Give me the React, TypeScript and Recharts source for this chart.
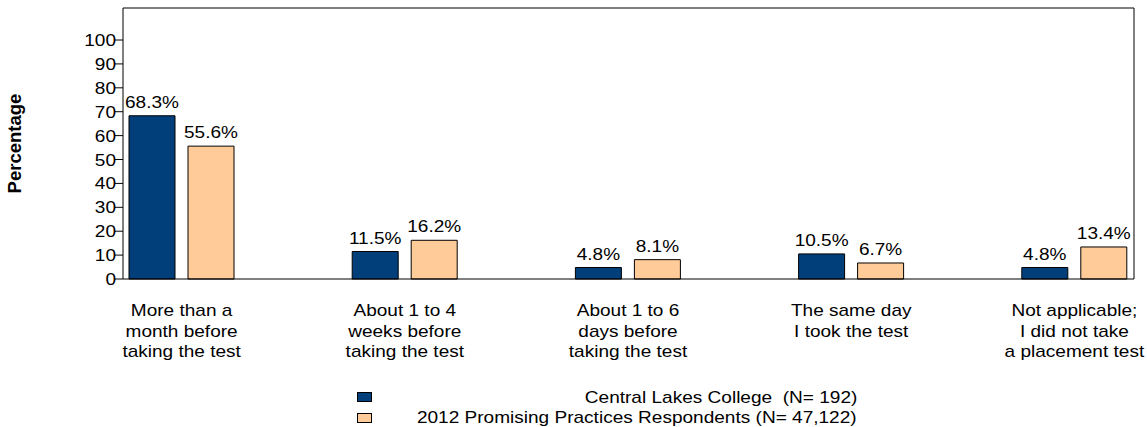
import React from 'react';
import { BarChart, Bar, XAxis, YAxis, Legend, LabelList } from 'recharts';

const categories = [
  'More than a\nmonth before\ntaking the test',
  'About 1 to 4\nweeks before\ntaking the test',
  'About 1 to 6\ndays before\ntaking the test',
  'The same day\nI took the test',
  'Not applicable;\nI did not take\na placement test',
];
const collegeValues = [68.3, 11.5, 4.8, 10.5, 4.8];
const promisingValues = [55.6, 16.2, 8.1, 6.7, 13.4];
const yTicks = [0, 10, 20, 30, 40, 50, 60, 70, 80, 90, 100];
const seriesNames = [
  'Central Lakes College  (N= 192)',
  '2012 Promising Practices Respondents (N= 47,122)',
];

const COLORS = ['#013F7B', '#FFCC99'];
const FONT = '"Liberation Sans", Arial, sans-serif';
const STRETCH = 1.12;

const data = categories.map((name, i) => ({
  name,
  college: collegeValues[i],
  promising: promisingValues[i],
}));

// the source renders its text a bit wider than plain Arial
const WideText = ({ x, y, anchor, children }: any) => (
  <text
    transform={`translate(${x},${y}) scale(${STRETCH},1)`}
    textAnchor={anchor}
    fontFamily={FONT}
    fontSize={17}
    fill="#000"
  >
    {children}
  </text>
);

const XTick = ({ x, y, payload }: any) => {
  const lines = String(payload.value).split('\n');
  return (
    <g>
      {lines.map((line, i) => (
        <WideText key={i} x={x} y={y + 37 + i * 20.5} anchor="middle">
          {line}
        </WideText>
      ))}
    </g>
  );
};

const YTick = ({ x, y, payload }: any) => (
  <WideText x={x + 1} y={y + 6} anchor="end">
    {payload.value}
  </WideText>
);

const ValueLabel = (props: any) => {
  const { x, y, width, value } = props;
  return (
    <WideText x={x + width / 2} y={y - 8} anchor="middle">
      {`${value}%`}
    </WideText>
  );
};

const YTitle = (props: any) => {
  const vb = props.viewBox || { x: 0, y: 8, width: 123, height: 271 };
  const cx = vb.x + 21;
  const cy = vb.y + vb.height / 2;
  return (
    <text
      transform={`translate(${cx},${cy}) rotate(-90)`}
      textAnchor="middle"
      fontFamily={FONT}
      fontWeight="bold"
      fontSize={18.5}
      fill="#000"
    >
      Percentage
    </text>
  );
};

const LegendBox = (props: any) => {
  const items = [...(props.payload || [])].sort(
    (a: any, b: any) => seriesNames.indexOf(a.value) - seriesNames.indexOf(b.value)
  );
  return (
    <div style={{ position: 'relative', width: 1147, height: 40, fontFamily: FONT, fontSize: 17, color: '#000' }}>
      {items.map((entry: any, i: number) => (
        <React.Fragment key={i}>
          <div
            style={{
              position: 'absolute',
              left: 357,
              top: 7 + i * 21,
              width: 13,
              height: 8,
              background: entry.color,
              border: '1px solid #000',
            }}
          />
          <div
            style={{
              position: 'absolute',
              right: 290,
              top: 3.6 + i * 20,
              lineHeight: '17px',
              whiteSpace: 'pre',
              transform: `scaleX(${STRETCH})`,
              transformOrigin: 'right center',
            }}
          >
            {entry.value}
          </div>
        </React.Fragment>
      ))}
    </div>
  );
};

export default function App() {
  return (
    <div style={{ position: 'absolute', left: 0, top: 0, width: 1147, height: 427, background: '#fff' }}>
      <BarChart
        width={1147}
        height={427}
        data={data}
        margin={{ top: 0, right: 0, bottom: 0, left: 0 }}
        barSize={46}
        barGap={13}
      >
        <XAxis
          dataKey="name"
          height={148}
          padding={{ left: -53, right: -52 }}
          axisLine={{ stroke: '#000', strokeWidth: 1 }}
          tickLine={false}
          tickSize={0}
          tickMargin={0}
          interval={0}
          tick={<XTick />}
        />
        <XAxis
          xAxisId="top"
          orientation="top"
          dataKey="name"
          height={8}
          padding={{ left: -53, right: -52 }}
          axisLine={{ stroke: '#000', strokeWidth: 1 }}
          tickLine={false}
          tick={false}
        />
        <YAxis
          width={123}
          domain={[0, 113.4]}
          ticks={yTicks}
          interval={0}
          axisLine={{ stroke: '#000', strokeWidth: 1 }}
          tickLine={{ stroke: '#000', strokeWidth: 1 }}
          tickSize={8}
          tickMargin={0}
          tick={<YTick />}
          label={YTitle}
        />
        <YAxis
          yAxisId="right"
          orientation="right"
          width={13}
          domain={[0, 113.4]}
          axisLine={{ stroke: '#000', strokeWidth: 1 }}
          tickLine={false}
          tick={false}
        />
        <Legend
          layout="horizontal"
          verticalAlign="middle"
          align="center"
          wrapperStyle={{ left: 0, top: 385, width: 1147, height: 40 }}
          content={<LegendBox />}
        />
        <Bar dataKey="college" name={seriesNames[0]} fill={COLORS[0]} stroke="#000" strokeWidth={1} isAnimationActive={false}>
          <LabelList dataKey="college" content={<ValueLabel />} />
        </Bar>
        <Bar dataKey="promising" name={seriesNames[1]} fill={COLORS[1]} stroke="#000" strokeWidth={1} isAnimationActive={false}>
          <LabelList dataKey="promising" content={<ValueLabel />} />
        </Bar>
      </BarChart>
    </div>
  );
}
